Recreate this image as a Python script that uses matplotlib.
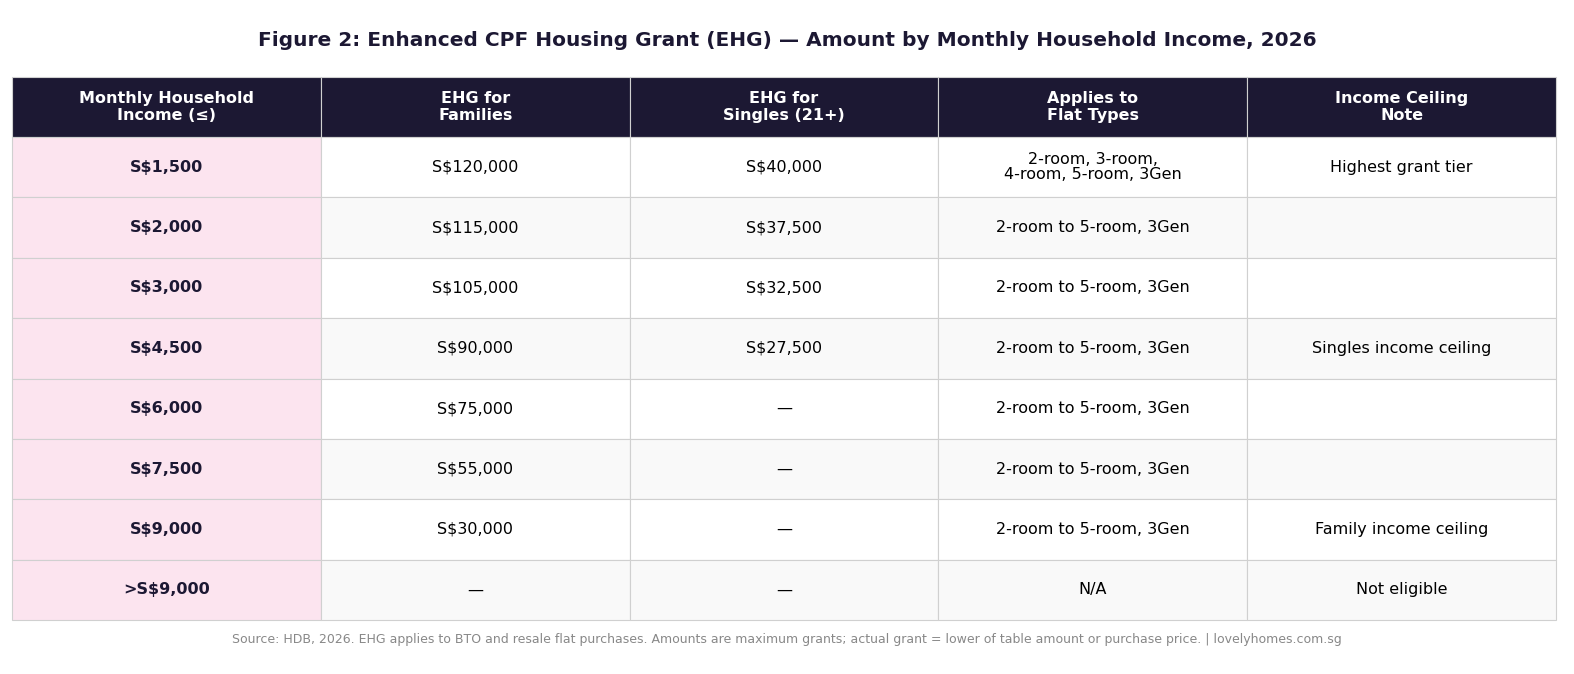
import matplotlib
matplotlib.use("Agg")
import matplotlib.pyplot as plt
from matplotlib.patches import Rectangle

title = "Figure 2: Enhanced CPF Housing Grant (EHG) — Amount by Monthly Household Income, 2026"
headers = ["Monthly Household\nIncome (≤)", "EHG for\nFamilies", "EHG for\nSingles (21+)", "Applies to\nFlat Types", "Income Ceiling\nNote"]
income = ["S$1,500", "S$2,000", "S$3,000", "S$4,500", "S$6,000", "S$7,500", "S$9,000", ">S$9,000"]
families = ["S$120,000", "S$115,000", "S$105,000", "S$90,000", "S$75,000", "S$55,000", "S$30,000", "—"]
singles = ["S$40,000", "S$37,500", "S$32,500", "S$27,500", "—", "—", "—", "—"]
flats = ["2-room, 3-room,\n4-room, 5-room, 3Gen"] + ["2-room to 5-room, 3Gen"] * 6 + ["N/A"]
notes = ["Highest grant tier", "", "", "Singles income ceiling", "", "", "Family income ceiling", "Not eligible"]
source = "Source: HDB, 2026. EHG applies to BTO and resale flat purchases. Amounts are maximum grants; actual grant = lower of table amount or purchase price. | lovelyhomes.com.sg"

W, H = 1574, 674
fig = plt.figure(figsize=(W/100, H/100), dpi=100)
ax = fig.add_axes([0, 0, 1, 1])
ax.set_xlim(0, W); ax.set_ylim(H, 0); ax.axis("off")

x0, x1 = 12, 1556
top, hh = 77, 60
rh = (620 - 137) / len(income)
cw = (x1 - x0) / len(headers)
navy = "#1c1833"

ax.text(W/2, 40, title, ha="center", va="center", fontsize=14.5, fontweight="bold", color=navy)
for j, h in enumerate(headers):
    ax.add_patch(Rectangle((x0 + j*cw, top), cw, hh, facecolor=navy, edgecolor="#d0d0d0", lw=0.8))
    ax.text(x0 + (j+0.5)*cw, top + hh/2, h, ha="center", va="center", fontsize=11.5,
            fontweight="bold", color="white", linespacing=1.1)

cols = [income, families, singles, flats, notes]
for i in range(len(income)):
    y = top + hh + i*rh
    for j, col in enumerate(cols):
        if j == 0:
            fc = "#fce4ef"
        else:
            fc = "white" if i % 2 == 0 else "#f9f9f9"
        ax.add_patch(Rectangle((x0 + j*cw, y), cw, rh, facecolor=fc, edgecolor="#d0d0d0", lw=0.8))
        ax.text(x0 + (j+0.5)*cw, y + rh/2, col[i], ha="center", va="center", fontsize=11.5,
                fontweight="bold" if j == 0 else "normal", color=navy if j == 0 else "black",
                linespacing=1.05)

ax.text(W/2, 639, source, ha="center", va="center", fontsize=9, color="#888888")
fig.savefig("out.png", dpi=100, facecolor="white")
